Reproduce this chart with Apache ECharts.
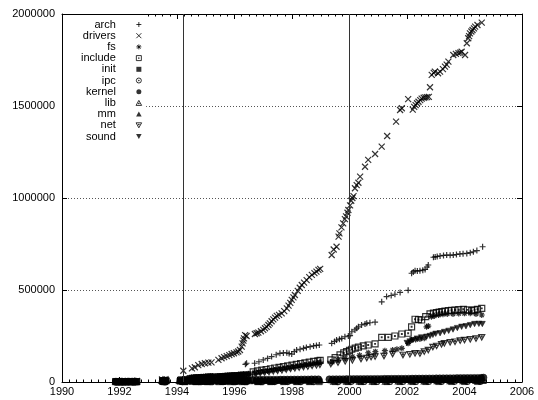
<!DOCTYPE html>
<html><head><meta charset="utf-8">
<script src="https://cdn.jsdelivr.net/npm/echarts@6/dist/echarts.min.js"></script>
<style>html,body{margin:0;padding:0;background:#fff}#c{width:538px;height:400px}</style>
</head><body><div id="c"></div>
<script>
const yearTicks = [1990, 1992, 1994, 1996, 1998, 2000, 2002, 2004, 2006];
const valueTicks = [0, 500000, 1000000, 1500000, 2000000];
const markerYears = [1994.2, 2000.0];
const seriesNames = ['arch','drivers','fs','include','init','ipc','kernel','lib','mm','net','sound'];

const arch = [[1994.48,14000],[1994.56,15000],[1994.64,16000],[1994.72,17500],[1994.8,18000],[1994.88,20000],[1994.96,20500],[1995.04,21000],[1995.12,22000],[1995.2,23500],[1995.28,24000],
[1995.42,26000],[1995.5,27000],[1995.58,28500],[1995.66,30000],[1995.74,31000],[1995.82,32500],[1995.9,34000],[1995.98,35500],[1996.06,37000],[1996.14,39000],[1996.22,41000],[1996.3,43000],[1996.38,96000],[1996.42,102000],[1996.48,45000],
[1996.7,102000],[1996.85,110000],[1997.0,120000],[1997.15,128000],[1997.29,138000],[1997.45,148000],[1997.58,156000],[1997.7,158000],[1997.82,159000],[1997.9,155000],[1997.99,152000],[1998.08,165000],[1998.16,174000],[1998.28,178000],[1998.4,183000],[1998.5,188000],[1998.63,192000],[1998.75,196000],[1998.85,199000],[1998.95,201000],
[1999.38,210000],[1999.48,220000],[1999.55,228000],[1999.65,233000],[1999.73,237000],[1999.84,246000],[1999.96,250000],[2000.02,252000],[2000.08,273000],[2000.19,283000],[2000.25,292000],[2000.31,300000],[2000.42,310000],[2000.54,315000],[2000.6,319000],[2000.71,322000],[2000.89,325000],
[2001.12,436000],[2001.29,464000],[2001.45,470000],[2001.58,477000],[2001.76,487000],[2002.04,498000],[2002.16,591000],[2002.22,598000],[2002.28,605000],[2002.36,603000],[2002.45,605000],[2002.55,608000],[2002.63,612000],[2002.7,625000],[2002.74,636000],
[2002.92,678000],[2002.98,680000],[2003.05,682000],[2003.15,685000],[2003.27,688000],[2003.38,690000],[2003.5,689000],[2003.61,690000],[2003.72,693000],[2003.84,696000],[2003.95,697000],[2004.08,699000],[2004.2,703000],[2004.31,708000],[2004.43,714000],[2004.63,735000]];

const drivers = [[1992.3,4000],[1992.45,5000],[1992.6,5500],[1993.48,14000],[1993.6,16000],[1994.22,61000],
[1994.52,74000],[1994.62,80000],[1994.74,92000],[1994.86,98000],[1994.97,102000],[1995.09,105000],[1995.2,107000],
[1995.44,120000],[1995.55,129000],[1995.64,135000],[1995.73,141000],[1995.82,146000],[1995.9,152000],[1995.98,156000],[1996.07,161000],[1996.13,166000],[1996.19,174000],[1996.25,192000],[1996.28,210000],[1996.31,225000],[1996.33,237000],[1996.37,255000],[1996.42,250000],
[1996.71,261000],[1996.77,265000],[1996.83,268000],[1996.92,276000],[1997.0,283000],[1997.06,292000],[1997.12,300000],[1997.18,310000],[1997.23,319000],[1997.29,330000],[1997.35,340000],[1997.41,350000],[1997.47,359000],[1997.55,365000],[1997.64,373000],[1997.73,385000],[1997.82,400000],[1997.88,415000],[1997.94,430000],[1997.99,446000],[1998.05,460000],[1998.1,473000],[1998.2,495000],[1998.27,512000],[1998.34,527000],[1998.42,540000],[1998.51,554000],[1998.6,570000],[1998.69,582000],[1998.78,592000],[1998.85,600000],[1998.92,609000],[1998.98,615000],
[1999.38,690000],[1999.45,720000],[1999.55,735000],[1999.62,790000],[1999.65,808000],[1999.72,840000],[1999.78,862000],[1999.84,885000],[1999.88,900000],[1999.93,920000],[1999.96,935000],[2000.02,960000],[2000.06,985000],[2000.1,1000000],[2000.14,1010000],[2000.19,1053000],[2000.25,1070000],[2000.31,1083000],[2000.37,1116000],[2000.54,1170000],[2000.65,1207000],[2000.89,1239000],[2001.12,1279000],[2001.31,1337000],[2001.62,1415000],[2001.76,1478000],[2001.82,1488000],[2002.04,1537000],
[2002.2,1480000],[2002.25,1495000],[2002.3,1505000],[2002.35,1515000],[2002.4,1523000],[2002.46,1532000],[2002.51,1540000],[2002.58,1545000],[2002.64,1547000],[2002.7,1548000],[2002.76,1550000],[2002.8,1602000],[2002.86,1669000],[2002.93,1680000],[2002.97,1687000],[2003.08,1678000],[2003.15,1687000],[2003.25,1700000],[2003.32,1714000],[2003.38,1725000],[2003.44,1741000],[2003.61,1777000],[2003.7,1783000],[2003.79,1787000],[2003.85,1790000],[2003.9,1795000],[2004.02,1777000],[2004.08,1841000],[2004.13,1868000],[2004.16,1880000],[2004.19,1895000],[2004.24,1905000],[2004.28,1913000],[2004.33,1922000],[2004.37,1931000],[2004.45,1940000],[2004.6,1953000]];

const fs = [[1991.9,2000],[1992.02,2500],[1992.15,3000],[1992.3,3500],[1992.42,4000],[1992.55,4500],[1993.52,9000],[1993.62,10000],[1994.2,14000],[1994.32,15000],
[1994.5,25000],[1994.58,26000],[1994.66,26500],[1994.75,27000],[1994.84,28000],[1994.92,29000],[1995.0,29500],[1995.08,30500],[1995.16,31000],[1995.24,32000],
[1995.42,32500],[1995.5,33000],[1995.6,34000],[1995.68,35000],[1995.76,35500],[1995.84,36000],[1995.92,37000],[1996.0,38000],[1996.08,38500],[1996.16,39000],[1996.24,40000],[1996.32,41000],[1996.4,42000],[1996.5,43000],
[1996.7,50000],[1996.85,53000],[1997.0,57000],[1997.15,60000],[1997.3,64000],[1997.45,67000],[1997.6,71000],[1997.75,74000],[1997.9,78000],[1998.05,82000],[1998.2,86000],[1998.35,89000],[1998.5,93000],[1998.65,97000],[1998.8,101000],[1998.95,105000],
[1999.4,108000],[1999.6,118000],[1999.85,128000],[2000.1,138000],[2000.35,145000],[2000.65,159000],[2000.9,165000],[2001.23,170000],[2001.5,174000],[2001.65,178000],[2001.82,183000],[2002.04,210000],[2002.16,228000],[2002.3,231000],[2002.45,234000],[2002.6,238000],[2002.68,300000],[2002.74,304000],[2002.85,355000],[2002.95,359000],[2003.1,364000],[2003.25,368000],[2003.4,370000],[2003.6,370000],[2003.8,372000],[2004.0,373000],[2004.2,374000],[2004.4,370000],[2004.6,364000]];

const include = [[1991.88,1500],[1992.0,1800],[1992.12,2000],[1992.22,2200],[1992.33,2400],[1992.47,2600],[1992.6,2800],[1993.5,7000],[1993.6,8000],[1994.15,12000],[1994.3,13000],
[1994.46,19000],[1994.54,20000],[1994.62,21000],[1994.7,22000],[1994.78,22500],[1994.86,23500],[1994.94,24000],[1995.02,25000],[1995.1,26000],[1995.18,26500],[1995.26,27000],
[1995.44,27500],[1995.52,28000],[1995.6,29000],[1995.68,30000],[1995.76,30500],[1995.84,31500],[1995.92,32000],[1996.0,33000],[1996.08,34000],[1996.16,34500],[1996.24,35500],[1996.32,36000],[1996.44,37000],[1996.52,38000],
[1996.65,55000],[1996.8,60000],[1996.95,64000],[1997.1,68000],[1997.25,72000],[1997.4,76000],[1997.55,80000],[1997.7,84000],[1997.85,88000],[1998.0,92000],[1998.15,96000],[1998.3,100000],[1998.45,104000],[1998.6,108000],[1998.75,112000],[1998.9,115000],[1998.98,118000],
[1999.35,120000],[1999.5,133000],[1999.67,147000],[1999.8,158000],[1999.9,165000],[2000.0,172000],[2000.08,178000],[2000.2,184000],[2000.31,189000],[2000.48,196000],[2000.65,201000],[2000.89,207000],[2001.12,243000],[2001.35,243000],[2001.58,250000],[2001.82,261000],[2002.04,265000],[2002.16,300000],[2002.28,341000],[2002.4,339000],[2002.51,337000],[2002.65,355000],[2002.8,370000],[2002.92,374000],[2003.03,377000],[2003.12,380000],[2003.21,382000],[2003.32,385000],[2003.44,388000],[2003.55,390000],[2003.67,391000],[2003.8,393000],[2003.96,395000],[2004.1,392000],[2004.25,388000],[2004.35,392000],[2004.45,395000],[2004.6,400000]];

const init = [[1991.86,3000],[1991.92,800],[1992.04,2500],[1992.12,400],[1992.24,2800],[1992.38,500],[1992.5,3000],[1992.6,500],[1993.5,3500],[1993.56,800],[1993.63,6000],[1994.1,4000],[1994.28,1000],[1994.36,5000],[1994.65,1000],[1995.05,1100],[1995.45,1200],[1995.85,1200],[1996.25,1300],[1996.8,1300],[1997.25,1400],[1997.7,1500],[1998.15,1500],[1998.6,1600],[1998.95,1600],[1999.5,1700],[1999.95,1800],[2000.4,1800],[2000.85,1900],[2001.3,1900],[2001.75,2000],[2002.2,2100],[2002.65,2200],[2003.1,2200],[2003.55,2300],[2004.0,2300],[2004.45,2400]];

const ipc = [[1992.5,300],[1993.58,1000],[1994.18,1500],[1994.8,1600],[1995.2,1700],[1995.6,1800],[1996.0,1900],[1996.4,1900],[1996.95,2000],[1997.4,2100],[1997.85,2200],[1998.3,2300],[1998.75,2300],[1999.6,2400],[2000.05,2500],[2000.5,2600],[2000.95,2600],[2001.4,2700],[2001.85,2800],[2002.3,3000],[2002.75,3200],[2003.2,3400],[2003.65,3500],[2004.1,3600],[2004.55,3700]];

const kernel = [[1991.88,1500],[1991.98,1700],[1992.1,1900],[1992.2,2100],[1992.32,2300],[1992.44,2400],[1992.56,2600],[1993.5,5200],[1993.6,5600],[1994.12,6800],[1994.24,7000],[1994.33,7100],
[1994.48,7500],[1994.6,7800],[1994.72,8100],[1994.85,8200],[1994.98,8600],[1995.1,8800],[1995.22,9100],
[1995.4,9200],[1995.52,9500],[1995.64,9700],[1995.76,9800],[1995.88,10200],[1996.0,10400],[1996.12,10600],[1996.24,10900],[1996.36,11300],[1996.48,11400],
[1996.64,11600],[1996.76,11700],[1996.88,12000],[1997.0,12200],[1997.12,12300],[1997.24,12600],[1997.36,12700],[1997.48,12800],[1997.6,13100],[1997.72,13100],[1997.84,13300],[1997.96,13500],[1998.08,13600],[1998.2,13700],[1998.32,13900],[1998.44,14100],[1998.56,14200],[1998.68,14300],[1998.8,14600],[1998.92,14600],
[1999.3,14800],[1999.42,15000],[1999.54,15200],[1999.66,15300],[1999.78,15400],[1999.9,15700],[2000.02,15700],[2000.14,15900],[2000.26,16100],[2000.38,16100],[2000.5,16300],[2000.62,16500],[2000.74,16500],[2000.86,16700],[2000.98,16900],[2001.1,16900],[2001.22,17100],[2001.34,17300],[2001.46,17300],[2001.58,17500],[2001.7,17700],[2001.82,17700],[2001.94,17900],[2002.06,18200],[2002.18,18400],[2002.3,18600],[2002.42,18900],[2002.54,19000],[2002.66,19300],[2002.78,19600],[2002.9,19700],[2003.02,19900],[2003.14,20200],[2003.26,20300],[2003.38,20600],[2003.5,20700],[2003.62,20900],[2003.74,21200],[2003.86,21300],[2003.98,21500],[2004.1,21800],[2004.22,21900],[2004.34,22200],[2004.46,22300],[2004.58,22600],[2004.66,24000]];

const lib = [[1991.96,500],[1992.25,600],[1992.52,700],[1993.53,1200],[1994.22,1500],[1994.7,1600],[1995.0,1700],[1995.6,1800],[1996.0,1900],[1996.35,2000],[1996.85,2100],[1997.3,2200],[1997.75,2400],[1998.2,2500],[1998.65,2600],[1999.45,2800],[1999.9,3000],[2000.35,3200],[2000.8,3400],[2001.25,3600],[2001.7,3900],[2002.15,4300],[2002.6,4800],[2003.05,5300],[2003.5,5800],[2003.95,6200],[2004.4,6500],[2004.64,6800]];

const mm = [[1991.86,5000],[1991.95,1000],[1992.06,6000],[1992.18,1200],[1992.28,5500],[1992.4,1400],[1992.52,6000],[1992.58,1500],[1993.47,9000],[1993.55,3000],[1993.64,12000],[1994.08,9000],[1994.25,4000],[1994.34,10000],
[1994.54,4200],[1994.66,4600],[1994.78,4700],[1994.9,5000],[1995.04,5300],[1995.16,5400],[1995.28,5600],
[1995.46,5900],[1995.58,6100],[1995.7,6300],[1995.82,6400],[1995.94,6600],[1996.06,6800],[1996.18,7000],[1996.3,7300],[1996.42,7400],[1996.52,7500],
[1996.7,8100],[1996.82,8300],[1996.94,8500],[1997.06,8700],[1997.18,8800],[1997.3,9000],[1997.42,9300],[1997.54,9500],[1997.66,9600],[1997.78,9800],[1997.9,10000],[1998.02,10100],[1998.14,10300],[1998.26,10500],[1998.38,10700],[1998.5,11000],[1998.62,11200],[1998.74,11400],[1998.86,11600],[1998.98,11700],
[1999.36,11800],[1999.48,12000],[1999.6,12300],[1999.72,12500],[1999.84,12700],[1999.96,13000],[2000.08,13100],[2000.2,13300],[2000.32,13500],[2000.44,13700],[2000.56,13900],[2000.68,14100],[2000.8,14300],[2000.92,14500],[2001.04,14700],[2001.16,14900],[2001.28,15100],[2001.4,15300],[2001.52,15400],[2001.64,15700],[2001.76,15900],[2001.88,16100],[2002.0,16300],[2002.12,16600],[2002.24,16700],[2002.36,16900],[2002.48,17100],[2002.6,17200],[2002.72,17400],[2002.84,17600],[2002.96,18000],[2003.08,18200],[2003.2,18300],[2003.32,18500],[2003.44,18700],[2003.56,18900],[2003.68,19100],[2003.8,19400],[2003.92,19600],[2004.04,19800],[2004.16,20000],[2004.28,20100],[2004.4,20300],[2004.52,20500],[2004.62,20700]];

const net = [[1992.5,1000],[1993.5,5000],[1993.6,5500],[1994.18,8000],[1994.3,8500],
[1994.5,14000],[1994.58,15000],[1994.66,15500],[1994.74,16500],[1994.82,17000],[1994.9,18000],[1994.98,18500],[1995.06,19500],[1995.14,20000],[1995.22,21000],[1995.3,21500],
[1995.46,22000],[1995.54,22500],[1995.62,23500],[1995.7,24000],[1995.78,25000],[1995.86,25500],[1995.94,26500],[1996.02,27000],[1996.1,28000],[1996.18,28500],[1996.26,29500],[1996.34,30000],[1996.46,31000],
[1996.75,45000],[1996.9,48000],[1997.05,51000],[1997.2,54000],[1997.35,58000],[1997.5,61000],[1997.65,64000],[1997.8,68000],[1997.95,71000],[1998.1,75000],[1998.25,78000],[1998.4,81000],[1998.55,84000],[1998.7,88000],[1998.85,91000],[1998.97,94000],
[1999.35,98000],[1999.6,105000],[1999.85,112000],[2000.1,118000],[2000.4,125000],[2000.6,130000],[2000.75,135000],[2000.89,138000],[2001.2,141000],[2001.5,152000],[2001.86,147000],[2002.1,150000],[2002.28,156000],[2002.45,155000],[2002.6,165000],[2002.74,174000],[2002.9,190000],[2003.03,196000],[2003.2,205000],[2003.3,210000],[2003.5,216000],[2003.67,219000],[2003.85,225000],[2004.0,228000],[2004.2,232000],[2004.4,236000],[2004.6,243000]];

const sound = [[2002.0,212000],[2002.1,220000],[2002.2,228000],[2002.35,236000],[2002.5,242000],[2002.68,246000],[2002.8,250000],[2002.9,256000],[2003.0,262000],[2003.15,265000],[2003.3,272000],[2003.45,278000],[2003.6,285000],[2003.75,293000],[2003.9,300000],[2004.05,303000],[2004.2,309000],[2004.35,315000],[2004.5,316000],[2004.62,315000]];

const seriesData = {arch, drivers, fs, include, init, ipc, kernel, lib, mm, net, sound};

const SYM = {
  plus: 'path://M0,5L10,5M5,0L5,10',
  cross: 'path://M0,0L10,10M0,10L10,0',
  star: 'path://M0,5L10,5M5,0L5,10M1.5,1.5L8.5,8.5M1.5,8.5L8.5,1.5',
  box: 'path://M0,0L10,0L10,10L0,10ZM4.4,4.4L5.6,4.4L5.6,5.6L4.4,5.6Z',
  fbox: 'path://M0,0L10,0L10,10L0,10Z',
  circ: 'path://M10,5A5,5,0,1,1,0,5A5,5,0,1,1,10,5ZM4.4,4.4L5.6,4.4L5.6,5.6L4.4,5.6Z',
  fcirc: 'path://M10,5A5,5,0,1,1,0,5A5,5,0,1,1,10,5Z',
  tri: 'path://M5,0L10,9L0,9ZM4.4,5L5.6,5L5.6,6.2L4.4,6.2Z',
  ftri: 'path://M5,0L10,9L0,9Z',
  itri: 'path://M0,0L10,0L5,9ZM4.4,2.6L5.6,2.6L5.6,3.8L4.4,3.8Z',
  fitri: 'path://M0,0L10,0L5,9Z'
};
const markStyle = {
  arch: ['plus', false, 6], drivers: ['cross', false, 6], fs: ['star', false, 6],
  include: ['box', false, 6], init: ['fbox', true, 6], ipc: ['circ', false, 6],
  kernel: ['fcirc', true, 7], lib: ['tri', false, 6], mm: ['ftri', true, 7],
  net: ['itri', false, 6], sound: ['fitri', true, 6]
};

const FONT = "'Liberation Sans', Arial, Helvetica, sans-serif";
function styleOf(name) {
  const filled = markStyle[name][1];
  return filled ? {color: '#000', borderColor: '#000', borderWidth: 0.6}
                : {color: 'transparent', borderColor: '#000', borderWidth: 1.2};
}
function legendStyleOf(name) {
  const filled = markStyle[name][1];
  return filled ? {color: '#000', borderWidth: 0}
                : {color: 'transparent', borderColor: '#000', borderWidth: 1};
}

const series = seriesNames.map(name => {
  const st = markStyle[name];
  const s = {
    name, type: 'scatter', data: seriesData[name],
    symbol: SYM[st[0]], symbolSize: st[2], symbolKeepAspect: true,
    itemStyle: styleOf(name), emphasis: {disabled: true}, silent: true
  };
  if (name === 'drivers') {
    s.markLine = {
      silent: true, symbol: ['none', 'none'], label: {show: false},
      lineStyle: {color: '#333', type: 'solid', width: 1},
      emphasis: {disabled: true},
      data: markerYears.map(v => ({xAxis: v}))
    };
  }
  return s;
});

const xStep = yearTicks[1] - yearTicks[0];
const yStep = valueTicks[1] - valueTicks[0];
const axisCommon = {
  axisLine: {show: true, onZero: false, lineStyle: {color: '#000', width: 1}},
  axisTick: {show: true, inside: true, length: 5, lineStyle: {color: '#000'}},
  axisLabel: {color: '#000', fontSize: 11, fontFamily: FONT, formatter: v => String(v)}
};
const chart = echarts.init(document.getElementById('c'), null, {renderer: 'canvas'});
chart.setOption({
  animation: false,
  backgroundColor: '#fff',
  grid: {left: 62, right: 16, top: 14, bottom: 18, containLabel: false, outerBoundsMode: 'none'},
  xAxis: [
    Object.assign({}, axisCommon, {type: 'value', position: 'bottom', min: yearTicks[0], max: yearTicks[yearTicks.length-1], interval: xStep,
      axisLabel: Object.assign({}, axisCommon.axisLabel, {margin: 4}),
      minorTick: {show: true, splitNumber: 8, length: 2.5, lineStyle: {color: '#000'}},
      splitLine: {show: false}}),
    Object.assign({}, axisCommon, {type: 'value', position: 'top', min: yearTicks[0], max: yearTicks[yearTicks.length-1], interval: xStep,
      axisLabel: {show: false},
      minorTick: {show: true, splitNumber: 8, length: 2.5, lineStyle: {color: '#000'}},
      splitLine: {show: false}})
  ],
  yAxis: [
    Object.assign({}, axisCommon, {type: 'value', position: 'left', min: valueTicks[0], max: valueTicks[valueTicks.length-1], interval: yStep,
      axisLabel: Object.assign({}, axisCommon.axisLabel, {margin: 7}),
      splitLine: {show: true, lineStyle: {color: '#555', type: [1, 2], width: 1}}}),
    Object.assign({}, axisCommon, {type: 'value', position: 'right', min: valueTicks[0], max: valueTicks[valueTicks.length-1], interval: yStep,
      axisLabel: {show: false}, splitLine: {show: false}})
  ],
  legend: {
    orient: 'vertical', align: 'right', left: 63, top: 15,
    padding: [4, 4, 3, 18], backgroundColor: '#fff',
    itemWidth: 36, itemHeight: 5, itemGap: 0.2, symbolKeepAspect: true,
    selectedMode: false,
    textStyle: {color: '#000', fontSize: 11, fontFamily: FONT, lineHeight: 11},
    data: seriesNames.map(name => ({name, icon: SYM[markStyle[name][0]], itemStyle: legendStyleOf(name)}))
  },
  series
});
</script></body></html>
